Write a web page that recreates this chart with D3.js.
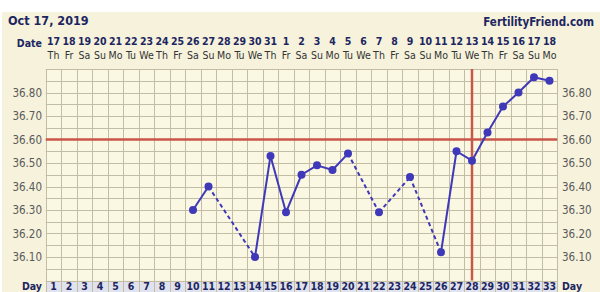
<!DOCTYPE html>
<html>
<head>
<meta charset="utf-8">
<script src="https://cdn.jsdelivr.net/npm/d3@7"></script>
<style>
  body { margin: 0; background: #fff; }
  svg { display: block; font-family: "DejaVu Sans Condensed", "DejaVu Sans", Verdana, sans-serif; }
</style>
</head>
<body>
<svg id="chart" width="600" height="292"></svg>
<script>
const title = 'Oct 17, 2019';
const site = 'FertilityFriend.com';
const dayNums = d3.range(1, 34);
const dates = [17, 18, 19, 20, 21, 22, 23, 24, 25, 26, 27, 28, 29, 30, 31, 1, 2, 3, 4, 5, 6, 7, 8, 9, 10, 11, 12, 13, 14, 15, 16, 17, 18];
const weekdays = ['Th', 'Fr', 'Sa', 'Su', 'Mo', 'Tu', 'We', 'Th', 'Fr', 'Sa', 'Su', 'Mo', 'Tu', 'We', 'Th', 'Fr', 'Sa', 'Su', 'Mo', 'Tu', 'We', 'Th', 'Fr', 'Sa', 'Su', 'Mo', 'Tu', 'We', 'Th', 'Fr', 'Sa', 'Su', 'Mo'];
// temps by cycle day, gaps = no reading
const tempDays = [10, 11, 14, 15, 16, 17, 18, 19, 20, 22, 24, 26, 27, 28, 29, 30, 31, 32, 33];
const temps = [36.30, 36.40, 36.10, 36.53, 36.29, 36.45, 36.49, 36.47, 36.54, 36.29, 36.44, 36.12, 36.55, 36.51, 36.63, 36.74, 36.80, 36.865, 36.85];
const yTicks = [36.10, 36.20, 36.30, 36.40, 36.50, 36.60, 36.70, 36.80];
const coverline = 36.60;
const ovulationDay = 28;

const svg = d3.select('#chart');
const margin = { left: 45.75, right: 557.25, top: 69, bottom: 280.5 };
const navy = '#1d2660';
const gridColor = '#c4bda6';

svg.append('rect').attr('x', 2).attr('y', 12).attr('width', 598).attr('height', 280).attr('fill', '#f6f2dc');

const x = d3.scaleBand().domain(dayNums).range([margin.left, margin.right]);
const y = d3.scaleLinear().domain([36.0, 36.9]).range([margin.bottom, margin.top]);
const cx = (d) => x(d) + x.bandwidth() / 2;

// plot background
svg.append('rect')
  .attr('x', margin.left).attr('y', margin.top)
  .attr('width', margin.right - margin.left).attr('height', margin.bottom - margin.top)
  .attr('fill', '#faf7e2');

// day row boxes
svg.append('g').selectAll('rect').data(dayNums).enter().append('rect')
  .attr('x', (d) => Math.round(x(d)) + 1).attr('y', 281)
  .attr('width', Math.round(x.bandwidth()) - 1).attr('height', 11)
  .attr('fill', '#e0e2ee');

// grid
const grid = svg.append('g').attr('stroke', gridColor).attr('stroke-width', 1);
grid.selectAll('line.h')
  .data(d3.range(0, 19).map((i) => 36.0 + i * 0.05))
  .enter().append('line')
  .attr('x1', margin.left).attr('x2', margin.right)
  .attr('y1', (d) => Math.round(y(d)) + 0.5).attr('y2', (d) => Math.round(y(d)) + 0.5);
grid.selectAll('line.v')
  .data(d3.range(0, 34))
  .enter().append('line')
  .attr('x1', (i) => Math.round(margin.left + i * x.bandwidth()) + 0.5)
  .attr('x2', (i) => Math.round(margin.left + i * x.bandwidth()) + 0.5)
  .attr('y1', margin.top).attr('y2', 292);

// y labels both sides
const yl = svg.append('g').attr('fill', '#5a5a5a').style('font-size', '11.5px');
yl.selectAll('text.l').data(yTicks).enter().append('text')
  .attr('x', 42).attr('y', (d) => y(d) + 4).attr('text-anchor', 'end')
  .text((d) => d.toFixed(2));
yl.selectAll('text.r').data(yTicks).enter().append('text')
  .attr('x', 562).attr('y', (d) => y(d) + 4)
  .text((d) => d.toFixed(2));

// header
svg.append('text').attr('x', 8).attr('y', 25).attr('fill', navy)
  .style('font-size', '12.5px').style('font-weight', 'bold').text(title);
svg.append('text').attr('x', 594).attr('y', 26).attr('fill', navy).attr('text-anchor', 'end')
  .style('font-size', '11.5px').style('font-weight', 'bold').text(site);
svg.append('text').attr('x', 42).attr('y', 47).attr('fill', navy).attr('text-anchor', 'end')
  .style('font-size', '10.5px').style('font-weight', 'bold').text('Date');
svg.append('g').selectAll('text').data(dayNums).enter().append('text')
  .attr('x', (d) => cx(d)).attr('y', 45).attr('text-anchor', 'middle').attr('fill', navy)
  .style('font-size', '10.5px').style('font-weight', 'bold')
  .text((d, i) => dates[i]);
svg.append('g').selectAll('text').data(dayNums).enter().append('text')
  .attr('x', (d) => cx(d)).attr('y', 59).attr('text-anchor', 'middle').attr('fill', '#333')
  .style('font-size', '10.5px')
  .text((d, i) => weekdays[i]);

// day numbers
svg.append('g').selectAll('text').data(dayNums).enter().append('text')
  .attr('x', (d) => cx(d)).attr('y', 290).attr('text-anchor', 'middle').attr('fill', navy)
  .style('font-size', '10.5px').style('font-weight', 'bold')
  .text((d) => d);
svg.append('text').attr('x', 42).attr('y', 290).attr('text-anchor', 'end').attr('fill', navy)
  .style('font-size', '10.5px').style('font-weight', 'bold').text('Day');
svg.append('text').attr('x', 562).attr('y', 290).attr('fill', navy)
  .style('font-size', '10.5px').style('font-weight', 'bold').text('Day');

// coverline and ovulation line
const red = '#c9564b';
svg.append('line')
  .attr('x1', margin.left).attr('x2', margin.right)
  .attr('y1', y(coverline)).attr('y2', y(coverline))
  .attr('stroke', red).attr('stroke-width', 2.5);
svg.append('line')
  .attr('x1', cx(ovulationDay)).attr('x2', cx(ovulationDay))
  .attr('y1', margin.top).attr('y2', margin.bottom)
  .attr('stroke', red).attr('stroke-width', 2.5);

// temperature line, dashed across skipped days
const pts = tempDays.map((d, i) => ({ day: d, t: temps[i] }));
const blue = '#3f38b8';
const segs = d3.pairs(pts);
svg.append('g').selectAll('line').data(segs).enter().append('line')
  .attr('x1', (s) => cx(s[0].day)).attr('y1', (s) => y(s[0].t))
  .attr('x2', (s) => cx(s[1].day)).attr('y2', (s) => y(s[1].t))
  .attr('stroke', blue).attr('stroke-width', 2)
  .attr('stroke-dasharray', (s) => (s[1].day - s[0].day > 1 ? '4,3' : null));
svg.append('g').selectAll('circle').data(pts).enter().append('circle')
  .attr('cx', (p) => cx(p.day)).attr('cy', (p) => y(p.t)).attr('r', 4)
  .attr('fill', blue);
</script>
</body>
</html>
